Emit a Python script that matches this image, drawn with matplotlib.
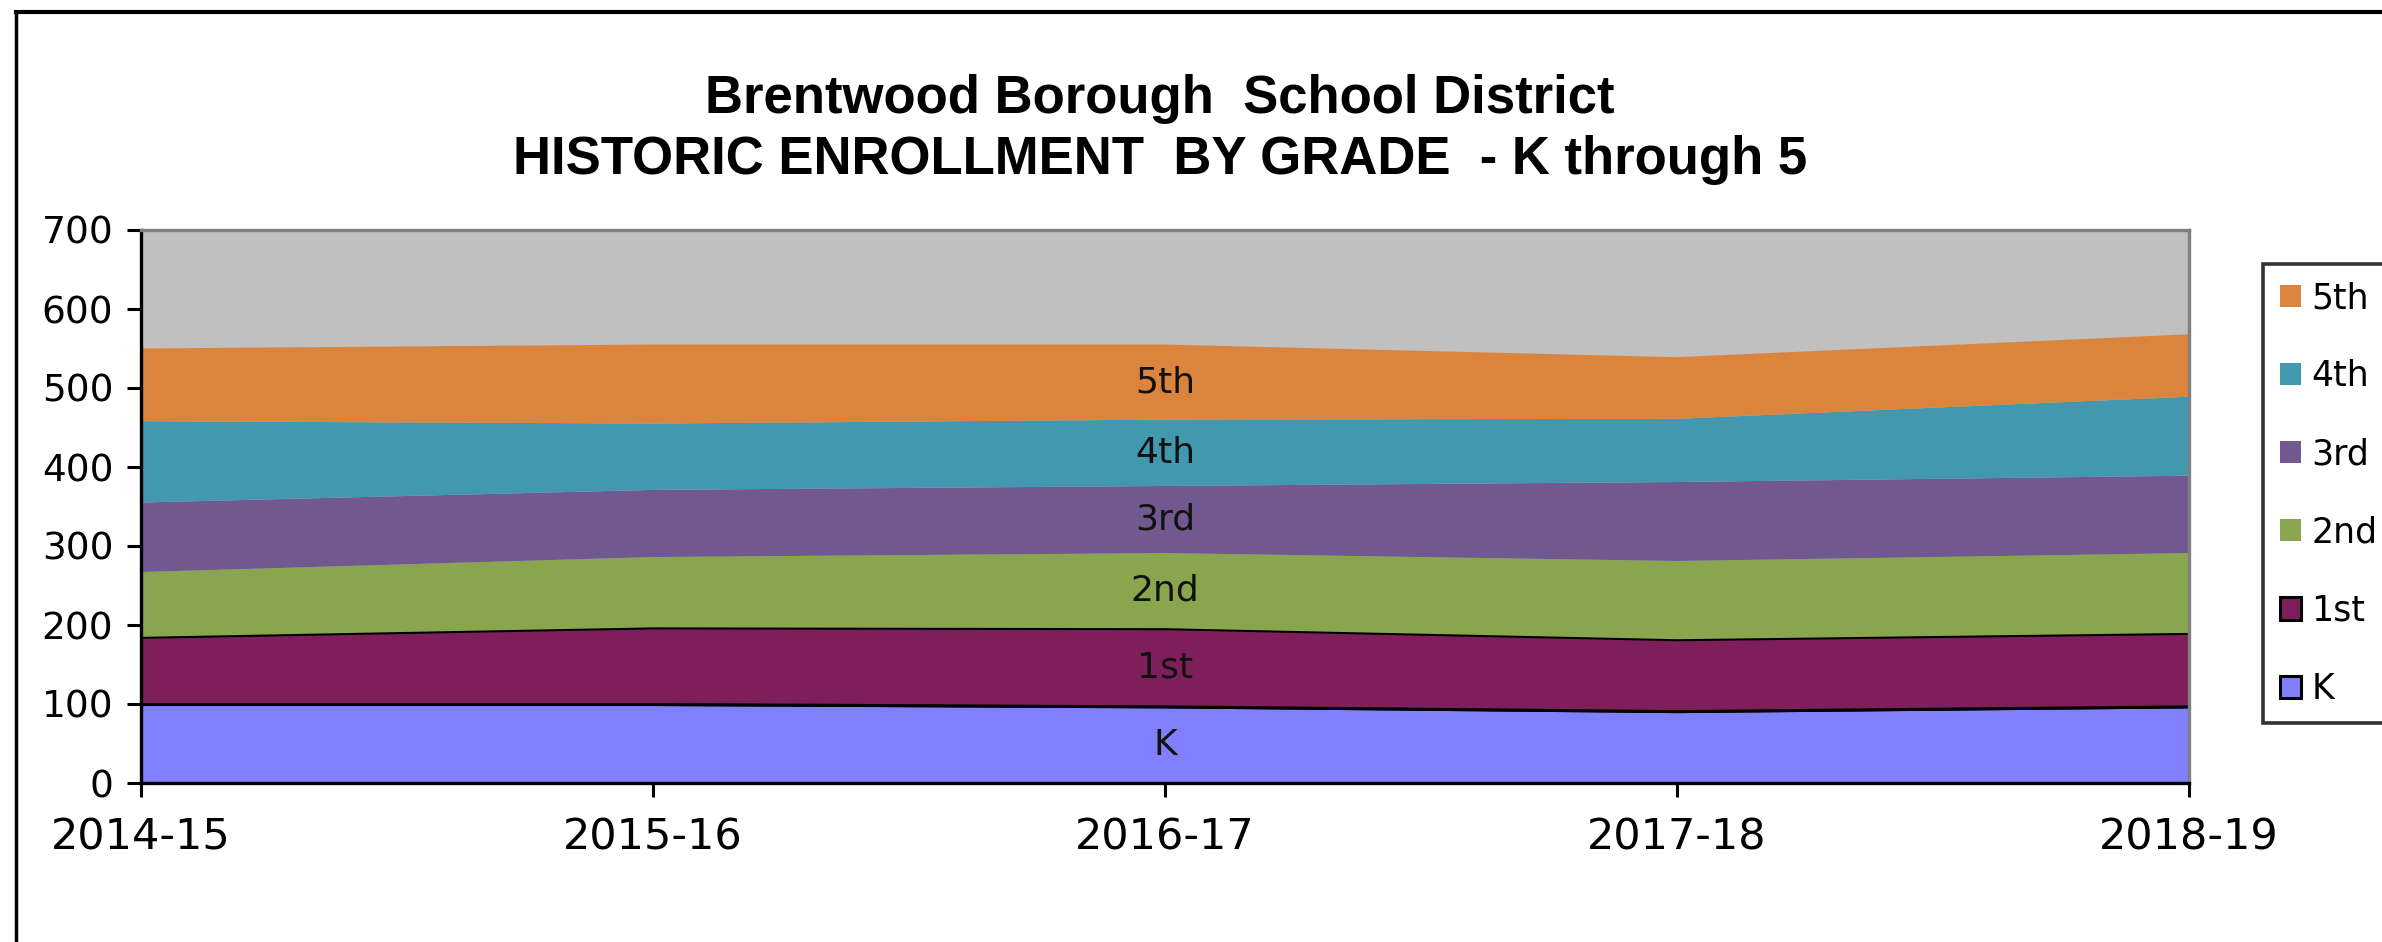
import matplotlib
matplotlib.use('Agg')
import numpy as np
from matplotlib import pyplot as plt
from matplotlib.lines import Line2D

years = ['2014-15', '2015-16', '2016-17', '2017-18', '2018-19']
grades = ['K', '1st', '2nd', '3rd', '4th', '5th']
k_vals = [100, 100, 97, 91, 97]
first_vals = [85, 97, 99, 91, 93]
second_vals = [82, 89, 95, 99, 101]
third_vals = [88, 85, 85, 100, 98]
fourth_vals = [103, 84, 84, 80, 100]
fifth_vals = [92, 100, 95, 78, 79]
colors = ['#8080FF', '#7E1F5C', '#89A54E', '#71588F', '#4198AF', '#DB843D']
yticks = [0, 100, 200, 300, 400, 500, 600, 700]

W, H = 2382, 942
fig = plt.figure(figsize=(W / 100, H / 100), dpi=100)
fig.patch.set_facecolor('white')

# outer chart frame (only top and left show in the crop)
fig.add_artist(Line2D([16 / W, 16 / W], [0, 1 - 12 / H], color='black', lw=2.5))
fig.add_artist(Line2D([16 / W, 1], [1 - 12 / H, 1 - 12 / H], color='black', lw=3))

ax = fig.add_axes([141 / W, 1 - 783 / H, (2189 - 141) / W, (783 - 230) / H])
ax.set_facecolor('#C0C0C0')

x = np.arange(len(years))
series = [k_vals, first_vals, second_vals, third_vals, fourth_vals, fifth_vals]
polys = ax.stackplot(x, *series, colors=colors, labels=grades, lw=0)
for p in polys[:2]:
    p.set_edgecolor('black')
    p.set_linewidth(2.2)

# series names in the middle of each band at 2016-17
cum = np.cumsum(np.array(series), axis=0)
for i, g in enumerate(grades):
    lo = cum[i - 1][2] if i > 0 else 0
    hi = cum[i][2]
    ax.text(x[2], (lo + hi) / 2, g, ha='center', va='center', fontsize=26,
            color='#111111', family='DejaVu Sans')

ax.set_xlim(0, 4)
ax.set_ylim(0, 700)
ax.set_xticks(x)
ax.set_xticklabels(years)
ax.set_yticks(yticks)
ax.tick_params(axis='both', direction='out', length=10, width=2.2, labelsize=27, colors='black')
ax.tick_params(axis='x', pad=14, labelsize=31)
ax.tick_params(axis='y', pad=10)
for lab in ax.get_xticklabels() + ax.get_yticklabels():
    lab.set_family('DejaVu Sans')

for side in ['left', 'bottom']:
    ax.spines[side].set_color('black')
    ax.spines[side].set_linewidth(2.4)
for side in ['top', 'right']:
    ax.spines[side].set_color('#808080')
    ax.spines[side].set_linewidth(2.4)

fig.text(1160 / W, 1 - 113 / H, 'Brentwood Borough  School District', ha='center',
         va='baseline', fontsize=38, family='Liberation Sans', weight='bold')
fig.text(1160 / W, 1 - 174 / H, 'HISTORIC ENROLLMENT  BY GRADE  - K through 5', ha='center',
         va='baseline', fontsize=38, family='Liberation Sans', weight='bold')

handles = polys[::-1]
labels = grades[::-1]
leg = fig.legend(handles, labels, loc='upper left', bbox_to_anchor=(2263 / W, 1 - 264 / H),
                 frameon=True, fancybox=False, handlelength=0.6,
                 handleheight=0.6, handletextpad=0.3, labelspacing=1.27,
                 borderpad=0.5, borderaxespad=0, prop={'family': 'DejaVu Sans', 'size': 25})
leg.get_frame().set_edgecolor('black')
leg.get_frame().set_linewidth(2.6)

fig.savefig('out.png', dpi=100)
